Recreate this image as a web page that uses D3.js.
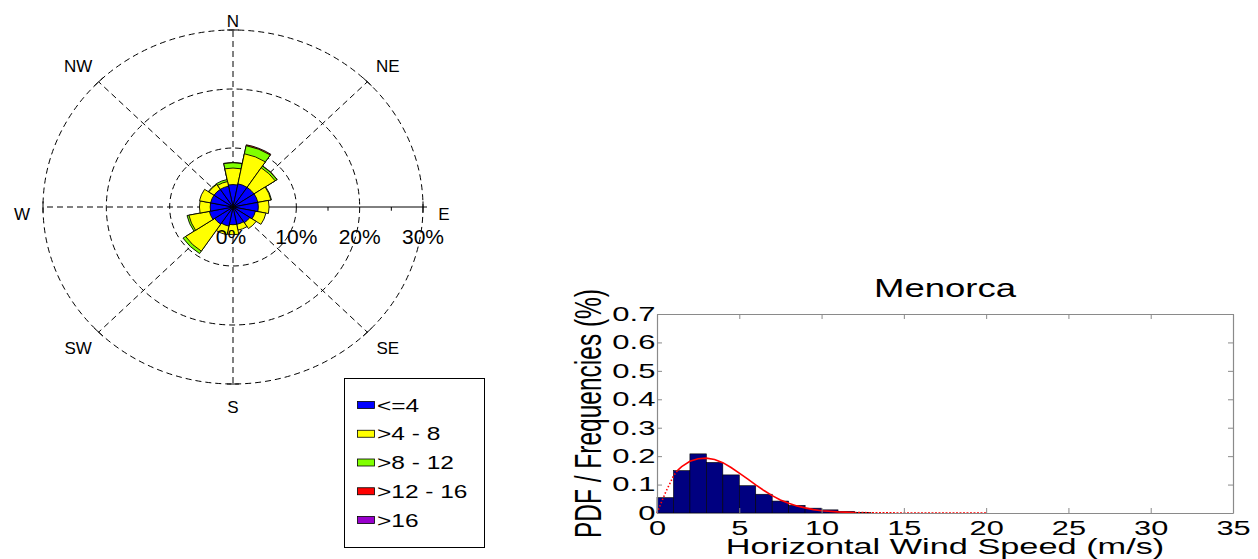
<!DOCTYPE html>
<html><head><meta charset="utf-8">
<script src="https://cdn.jsdelivr.net/npm/d3@7"></script>
<style>
body{margin:0;background:#fff}
svg{display:block}
text{font-family:Arial,"Liberation Sans",Helvetica,sans-serif;fill:#000}
</style>
</head><body>
<svg id="c" width="1258" height="559"></svg>
<script>
// ---------------- DATA ----------------
const directions = ["N","NNE","NE","ENE","E","ESE","SE","SSE","S","SSW","SW","WSW","W","WNW","NW","NNW"];
const compassLabels = ["N","NE","E","SE","S","SW","W","NW"];
const speedClasses = ["<=4", ">4 - 8", ">8 - 12", ">12 - 16", ">16"];
// percent of time per direction, for each speed class
const freqLe4    = [3.8,4.0,4.0,4.0,4.0,3.6,3.2,3.0,3.0,3.3,3.5,3.8,3.6,3.6,3.6,3.6];
const freq4to8   = [2.8,5.2,4.0,2.1,1.7,1.7,1.2,1.0,1.7,1.5,5.5,3.3,1.7,1.8,1.0,0.8];
const freq8to12  = [0.9,1.4,0.35,0.1,0,0,0,0,0,0,0.5,0.3,0,0,0.1,0.35];
const freq12to16 = [0.05,0.15,0.05,0,0,0,0,0,0,0,0,0,0,0,0,0];
const freqGt16   = [0,0,0,0,0,0,0,0,0,0,0,0,0,0,0,0];
const roseRings = [10,20,30];
const roseRingLabels = ["0%","10%","20%","30%"];

const histBinStart = [0,1,2,3,4,5,6,7,8,9,10,11,12];
const histFreq = [0.054,0.149,0.208,0.178,0.134,0.096,0.066,0.042,0.027,0.017,0.011,0.006,0.002];
const pdfX = [0,0.25,0.5,0.75,1,1.25,1.5,2,2.5,3,3.5,4,4.5,5,5.5,6,6.5,7,7.5,8,8.5,9,9.5,10,11,12,13,14,16,18,20];
const pdfY = [0,0.035,0.07,0.1,0.13,0.15,0.163,0.182,0.191,0.193,0.188,0.177,0.16,0.14,0.12,0.099,0.079,0.061,0.046,0.034,0.025,0.018,0.012,0.008,0.004,0.002,0.001,0.0005,0.0002,0.0001,0];
const xTicks = [0,5,10,15,20,25,30,35];
const yTicks = [0,0.1,0.2,0.3,0.4,0.5,0.6,0.7];
const chartTitle = "Menorca";
const xTitle = "Horizontal Wind Speed (m/s)";
const yTitle = "PDF / Frequencies (%)";

// ---------------- STYLE ----------------
const classColors = ["#0000ff","#ffff00","#80ff00","#ff0000","#9900cc"];
const svg = d3.select("#c");

function stretchedText(g, x, y, str, size, anchor, sx, extra) {
  return g.append("text")
    .attr("transform", `translate(${x},${y}) scale(${sx},1)` + (extra || ""))
    .attr("text-anchor", anchor)
    .attr("font-size", size)
    .text(str);
}

// ---------------- WIND ROSE ----------------
const cx = 233, cy = 207, RX = 190, RY = 177;
const r = d3.scaleLinear().domain([0,30]).range([0,RX]);
const rose = svg.append("g");
const rs = rose.append("g").attr("transform", `translate(${cx},${cy}) scale(1,${RY/RX})`);

// rings
rs.selectAll("circle.ring").data(roseRings).join("circle")
  .attr("r", d => r(d)).attr("fill","none").attr("stroke","#000")
  .attr("stroke-width",1).attr("stroke-dasharray","6,4")
  .attr("vector-effect","non-scaling-stroke");

// spokes
const spokeAngles = d3.range(8).map(i => i*45);
rs.selectAll("line.spoke").data(spokeAngles.filter(a => a !== 90)).join("line")
  .attr("x1",0).attr("y1",0)
  .attr("x2", a => r(30)*Math.sin(a*Math.PI/180))
  .attr("y2", a => -r(30)*Math.cos(a*Math.PI/180))
  .attr("stroke","#000").attr("stroke-width",1).attr("stroke-dasharray","6,4")
  .attr("vector-effect","non-scaling-stroke");
// E axis solid
rs.append("line").attr("x1",0).attr("y1",0).attr("x2",r(30)+4).attr("y2",0)
  .attr("stroke","#000").attr("stroke-width",1).attr("vector-effect","non-scaling-stroke");
// small cross ticks at outer ring ends
rs.selectAll("line.xt").data(spokeAngles).join("line")
  .attr("transform", a => `rotate(${a}) translate(0,${-r(30)})`)
  .attr("x1",-6).attr("x2",6).attr("y1",0).attr("y2",0)
  .attr("stroke","#000").attr("stroke-width",1).attr("vector-effect","non-scaling-stroke");
// minor ticks on E axis
rs.selectAll("line.mt").data([5,15,25]).join("line")
  .attr("x1", d => r(d)).attr("x2", d => r(d)).attr("y1",0).attr("y2",4)
  .attr("stroke","#000").attr("stroke-width",1).attr("vector-effect","non-scaling-stroke");

// ring labels (drawn before bars, bars cover the 0%)
rose.selectAll("text.rl").data(roseRingLabels).join("text")
  .attr("x", (d,i) => cx + r(i*10) - (i === 0 ? 2 : 0)).attr("y", 244)
  .attr("text-anchor","middle").attr("font-size",21).text(d => d);

// direction labels (cardinal vs diagonal label ellipses)
function labelPos(i) {
  const a = i*45*Math.PI/180;
  if (i % 2 === 0) return [cx + 211*Math.sin(a), cy + 7 - 193*Math.cos(a)];
  return [cx + 219*Math.sin(a), cy - 200*Math.cos(a)];
}
rose.selectAll("text.dl").data(compassLabels).join("text")
  .attr("x", (d,i) => labelPos(i)[0])
  .attr("y", (d,i) => labelPos(i)[1] + 6)
  .attr("text-anchor","middle").attr("font-size",17).text(d => d);

// bars
const classArrays = [freqLe4, freq4to8, freq8to12, freq12to16, freqGt16];
const stacks = directions.map((dname, i) => {
  let cum = 0;
  return classArrays.map((arr, k) => { cum += arr[i]; return {i, k, v: arr[i], cum}; });
});
const step = 2*Math.PI/directions.length;
const arc = d3.arc().innerRadius(0);
for (let k = classArrays.length - 1; k >= 0; k--) {
  const layer = stacks.map(s => s[k]).filter(d => d.v > 0);
  rs.selectAll(null).data(layer).join("path")
    .attr("d", d => arc({outerRadius: r(d.cum), startAngle: d.i*step - step/2, endAngle: d.i*step + step/2}))
    .attr("fill", classColors[k]).attr("stroke","#000").attr("stroke-width",0.9)
    .attr("stroke-linejoin","round")
    .attr("vector-effect","non-scaling-stroke");
}

// legend
const lg = svg.append("g");
lg.append("rect").attr("x",344.5).attr("y",378.5).attr("width",140).attr("height",169)
  .attr("fill","#fff").attr("stroke","#000").attr("stroke-width",1);
speedClasses.forEach((s, k) => {
  const yc = 405 + k*28.75;
  lg.append("rect").attr("x",357.5).attr("y",yc-3.5).attr("width",17).attr("height",7)
    .attr("fill",classColors[k]).attr("stroke","#000").attr("stroke-width",0.8);
  stretchedText(lg, 377, yc+6.5, s, 17.5, "start", 1.4);
});

// ---------------- HISTOGRAM ----------------
const x = d3.scaleLinear().domain([0,35]).range([657,1233]);
const y = d3.scaleLinear().domain([0,0.7]).range([513,314]);
const hg = svg.append("g");
const axisColor = "#8a8a8a";

hg.selectAll("rect.bar").data(histBinStart).join("rect")
  .attr("x", d => x(d)).attr("width", d => x(d+1)-x(d))
  .attr("y", (d,i) => y(histFreq[i])).attr("height", (d,i) => y(0)-y(histFreq[i]))
  .attr("fill","#000080").attr("stroke","#000").attr("stroke-width",0.6);

const line = d3.line().x(d => x(d[0])).y(d => y(d[1]));
const pts = pdfX.map((v,i) => [v, pdfY[i]]);
hg.append("path").datum(pts.filter(p => p[0] <= 1.25))
  .attr("d", line).attr("fill","none").attr("stroke","#ff0000").attr("stroke-width",1.6)
  .attr("stroke-dasharray","1.5,2");
hg.append("path").datum(pts.filter(p => p[0] >= 1.25 && p[0] <= 12))
  .attr("d", line).attr("fill","none").attr("stroke","#ff0000").attr("stroke-width",1.6);
hg.append("path").datum(pts.filter(p => p[0] >= 12))
  .attr("d", line).attr("fill","none").attr("stroke","#ff0000").attr("stroke-width",1.5)
  .attr("stroke-dasharray","2,1.5");

function styleAxis(g) {
  g.select(".domain").attr("stroke", axisColor).attr("stroke-width",1.2);
  g.selectAll(".tick line").attr("stroke", axisColor);
}
const gb = hg.append("g").attr("transform","translate(0,513)")
  .call(d3.axisBottom(x).tickValues(xTicks).tickSizeInner(-5).tickSizeOuter(0).tickPadding(7).tickFormat(d3.format("d")));
styleAxis(gb);
gb.selectAll(".tick text").attr("font-size",20.5).attr("fill","#000")
  .attr("font-family","Arial, 'Liberation Sans', sans-serif")
  .attr("transform","scale(1.5,1)");
const gt = hg.append("g").attr("transform","translate(0,314)")
  .call(d3.axisTop(x).tickValues(xTicks).tickSizeInner(-5).tickSizeOuter(0).tickFormat(""));
styleAxis(gt);
const gl = hg.append("g").attr("transform","translate(657,0)")
  .call(d3.axisLeft(y).tickValues(yTicks).tickSizeInner(-5).tickSizeOuter(0).tickPadding(1)
    .tickFormat(d => d === 0 ? "0" : d.toFixed(1)));
styleAxis(gl);
gl.selectAll(".tick text").attr("font-size",20).attr("fill","#000")
  .attr("font-family","Arial, 'Liberation Sans', sans-serif")
  .attr("transform","scale(1.55,1)");
const gr = hg.append("g").attr("transform","translate(1233,0)")
  .call(d3.axisRight(y).tickValues(yTicks).tickSizeInner(-5).tickSizeOuter(0).tickFormat(""));
styleAxis(gr);

stretchedText(hg, 945, 297, chartTitle, 25, "middle", 1.46);
stretchedText(hg, 945, 553.5, xTitle, 22, "middle", 1.56);
stretchedText(hg, 601, 413.5, yTitle, 24.5, "middle", 1.5, " rotate(-90)");
</script>
</body></html>
